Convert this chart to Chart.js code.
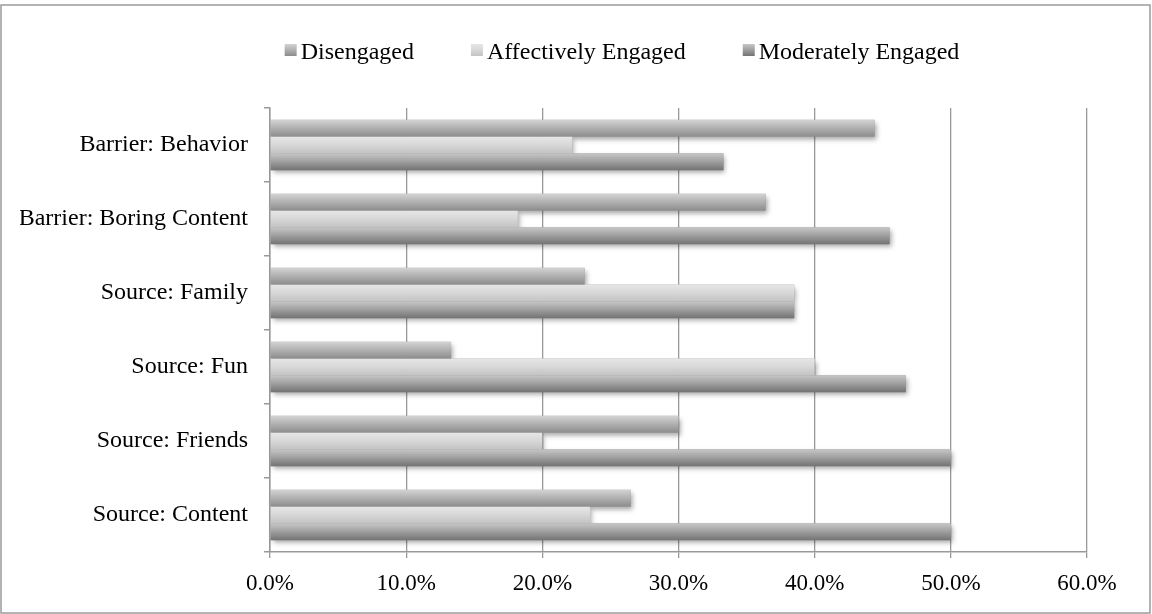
<!DOCTYPE html>
<html>
<head>
<meta charset="utf-8">
<script src="https://cdn.jsdelivr.net/npm/chart.js@4.4.1/dist/chart.umd.min.js"></script>
<style>
  html, body { margin: 0; padding: 0; background: #fff; }
</style>
</head>
<body>
<canvas id="myChart" width="1152" height="614"></canvas>
<script>
// data (percent)
const categories = ['Barrier: Behavior', 'Barrier: Boring Content', 'Source: Family', 'Source: Fun', 'Source: Friends', 'Source: Content'];
const seriesNames = ['Disengaged', 'Affectively Engaged', 'Moderately Engaged'];
const disengaged = [44.4, 36.4, 23.1, 13.3, 30.0, 26.5];
const affectivelyEngaged = [22.2, 18.2, 38.5, 40.0, 20.0, 23.5];
const moderatelyEngaged = [33.3, 45.5, 38.5, 46.7, 50.0, 50.0];
const xTickValues = [0, 10, 20, 30, 40, 50, 60];

// vertical gradient stops, top -> bottom of each bar
const shades = [
  ['#d3d3d3', '#b3b3b3', '#8c8c8c'],
  ['#e6e6e6', '#d9d9d9', '#c3c3c3'],
  ['#c6c6c6', '#a2a2a2', '#737373']
];
const catPct = 0.68;
const fontFamily = "'Liberation Serif', 'Times New Roman', serif";

Chart.defaults.font.family = fontFamily;
Chart.defaults.color = '#000';

function makeGradient(g, top, h, stops) {
  const grad = g.createLinearGradient(0, top, 0, top + h);
  grad.addColorStop(0, stops[0]);
  grad.addColorStop(0.45, stops[1]);
  grad.addColorStop(1, stops[2]);
  return grad;
}

function barFill(c) {
  const stops = shades[c.datasetIndex];
  const chart = c.chart, y = chart.scales.y;
  if (c.type !== 'data' || !y || !chart.chartArea) return stops[1];
  const center = y.getPixelForValue(c.dataIndex);
  const cat = Math.abs(y.getPixelForValue(1) - y.getPixelForValue(0));
  const group = cat * catPct;
  const bar = group / chart.data.datasets.length;
  const top = center - group / 2 + c.datasetIndex * bar;
  return makeGradient(chart.ctx, top, bar, stops);
}

const frame = {
  id: 'frame',
  beforeDraw(chart) {
    const g = chart.ctx;
    g.save();
    g.fillStyle = '#fff';
    g.fillRect(0, 0, chart.width, chart.height);
    g.strokeStyle = '#9a9a9a';
    g.lineWidth = 1.5;
    g.strokeRect(1, 5, chart.width - 3, chart.height - 6);
    g.restore();
  }
};

// soft drop shadow under every bar, drawn before the bars themselves
const barShadow = {
  id: 'barShadow',
  beforeDatasetsDraw(chart) {
    const g = chart.ctx;
    g.save();
    g.shadowColor = 'rgba(0,0,0,0.35)';
    g.shadowBlur = 5;
    g.shadowOffsetX = 2;
    g.shadowOffsetY = 3;
    g.fillStyle = '#999';
    chart.data.datasets.forEach((ds, i) => {
      chart.getDatasetMeta(i).data.forEach(el => {
        const left = Math.min(el.base, el.x);
        g.fillRect(left, el.y - el.height / 2, Math.abs(el.x - el.base), el.height);
      });
    });
    g.restore();
  }
};

const legendRow = {
  id: 'legendRow',
  afterDraw(chart) {
    const g = chart.ctx;
    g.save();
    g.font = '24px ' + fontFamily;
    g.fillStyle = '#000';
    g.textBaseline = 'alphabetic';
    const box = 12, gap = 4, spacing = 57, baseline = 59, centerX = 622;
    const widths = chart.data.datasets.map(ds => g.measureText(ds.label).width);
    const total = widths.reduce((s, w) => s + box + gap + w, 0) + spacing * (widths.length - 1);
    let x = centerX - total / 2;
    chart.data.datasets.forEach((ds, i) => {
      g.fillStyle = makeGradient(g, baseline - 15, box, shades[i]);
      g.fillRect(x, baseline - 15, box, box);
      g.fillStyle = '#000';
      g.fillText(ds.label, x + box + gap, baseline);
      x += box + gap + widths[i] + spacing;
    });
    g.restore();
  }
};

const ctx = document.getElementById('myChart');
const myBarChart = new Chart(ctx, {
  type: 'bar',
  data: {
    labels: categories,
    datasets: [
      { label: seriesNames[0], data: disengaged, backgroundColor: barFill },
      { label: seriesNames[1], data: affectivelyEngaged, backgroundColor: barFill },
      { label: seriesNames[2], data: moderatelyEngaged, backgroundColor: barFill }
    ]
  },
  options: {
    indexAxis: 'y',
    responsive: false,
    animation: false,
    categoryPercentage: catPct,
    barPercentage: 1.0,
    layout: { padding: { left: 20, right: 65, top: 108, bottom: 18 } },
    plugins: {
      legend: { display: false },
      tooltip: { enabled: false }
    },
    scales: {
      x: {
        min: 0,
        max: 60,
        afterBuildTicks: s => { s.ticks = xTickValues.map(v => ({ value: v })); },
        afterFit: s => { s.height = 44; },
        grid: { color: '#999', lineWidth: 1.3, tickLength: 6 },
        border: { color: '#999', width: 1.5 },
        ticks: {
          padding: 12,
          font: { size: 23 },
          callback: v => v.toFixed(1) + '%'
        }
      },
      y: {
        afterFit: s => { s.width = 250; },
        grid: { drawOnChartArea: false, color: '#999', lineWidth: 1.5, tickLength: 6, offset: true },
        border: { color: '#999', width: 1.5 },
        ticks: { padding: 16, font: { size: 24 } }
      }
    }
  },
  plugins: [frame, barShadow, legendRow]
});
</script>
</body>
</html>
